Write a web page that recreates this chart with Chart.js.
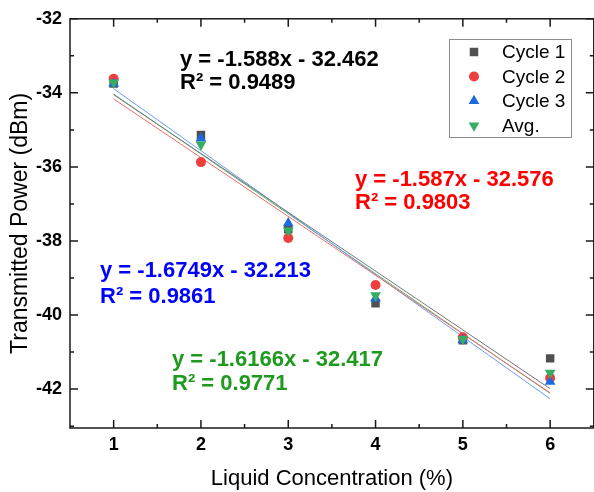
<!DOCTYPE html>
<html>
<head>
<meta charset="utf-8">
<script src="https://cdn.jsdelivr.net/npm/chart.js"></script>
<style>
  html, body { margin: 0; padding: 0; background: #fff; overflow: hidden; }
  #wrap { width: 600px; height: 492px; }
</style>
</head>
<body>
<div id="wrap"><canvas id="grafico"></canvas></div>
<script>
// datos
const concentracion = [1, 2, 3, 4, 5, 6];
const ciclo1 = [-33.75, -35.14, -37.68, -39.68, -40.68, -41.17];
const ciclo2 = [-33.62, -35.87, -37.92, -39.19, -40.60, -41.70];
const ciclo3 = [-33.75, -35.23, -37.52, -39.55, -40.68, -41.80];
const promedio = [-33.72, -35.40, -37.72, -39.47, -40.65, -41.56];

// ajustes lineales (segun las ecuaciones del grafico)
const pendientes = [-1.588, -1.587, -1.6749, -1.6166];
const interceptos = [-32.462, -32.576, -32.213, -32.417];
const r2 = [0.9489, 0.9803, 0.9861, 0.9771];

const nombres = ['Cycle 1', 'Cycle 2', 'Cycle 3', 'Avg.'];
const xTicks = [1, 2, 3, 4, 5, 6];
const xMenores = [1.5, 2.5, 3.5, 4.5, 5.5];
const yTicks = [-42, -40, -38, -36, -34, -32];
const yMenores = [-43, -41, -39, -37, -35, -33];

const colores = ['#505050', '#ef3e3e', '#1d6ae0', '#35ad62'];
const coloresLinea = ['#777777', '#f46a6a', '#6b9bf2', '#4fb874'];
const coloresTexto = ['#000000', '#ff0000', '#0000ff', '#1e9a1e'];
const estilos = [
  { pointStyle: 'rect', radius: 6, rotation: 0 },
  { pointStyle: 'circle', radius: 5, rotation: 0 },
  { pointStyle: 'triangle', radius: 6.2, rotation: 0 },
  { pointStyle: 'triangle', radius: 6.2, rotation: 180 }
];
const series = [ciclo1, ciclo2, ciclo3, promedio];

const datasets = [];
// lineas de ajuste, detras de los puntos
series.forEach((s, i) => {
  const x0 = concentracion[0], x1 = concentracion[concentracion.length - 1];
  datasets.push({
    label: nombres[i] + ' fit',
    data: [{ x: x0, y: pendientes[i] * x0 + interceptos[i] }, { x: x1, y: pendientes[i] * x1 + interceptos[i] }],
    showLine: true,
    borderColor: coloresLinea[i],
    borderWidth: 1,
    pointRadius: 0,
    order: 10 + i
  });
});
series.forEach((s, i) => {
  datasets.push({
    label: nombres[i],
    data: concentracion.map((x, j) => ({ x, y: s[j] })),
    showLine: false,
    pointStyle: estilos[i].pointStyle,
    pointRadius: estilos[i].radius,
    pointRotation: estilos[i].rotation,
    pointBackgroundColor: colores[i],
    pointBorderWidth: 0,
    order: 4 - i
  });
});

// anotaciones (posiciones en pixeles)
const posTexto = [[180, 60, 83], [355, 180, 203], [100, 271, 297], [172, 360, 384]];

function marcador(ctx, estilo, color, x, y) {
  ctx.save();
  ctx.fillStyle = color;
  ctx.beginPath();
  const r = estilo.radius;
  if (estilo.pointStyle === 'rect') {
    const s = r * Math.SQRT1_2;
    ctx.rect(x - s, y - s, 2 * s, 2 * s);
  } else if (estilo.pointStyle === 'circle') {
    ctx.arc(x, y, r, 0, Math.PI * 2);
  } else {
    const d = estilo.rotation ? -1 : 1;
    ctx.moveTo(x, y - d * r);
    ctx.lineTo(x + r * 0.866, y + d * r * 0.5);
    ctx.lineTo(x - r * 0.866, y + d * r * 0.5);
    ctx.closePath();
  }
  ctx.fill();
  ctx.restore();
}

const marco = {
  id: 'marco',
  afterDraw(chart) {
    const { ctx, chartArea: a, scales: { x, y } } = chart;
    ctx.save();
    ctx.strokeStyle = '#1a1a1a';
    ctx.lineWidth = 1.5;
    ctx.strokeRect(a.left, a.top, a.right - a.left, a.bottom - a.top);
    ctx.beginPath();
    const tx = (v, l) => {
      const p = x.getPixelForValue(v);
      ctx.moveTo(p, a.bottom); ctx.lineTo(p, a.bottom - l);
      ctx.moveTo(p, a.top); ctx.lineTo(p, a.top + l);
    };
    const ty = (v, l) => {
      const p = y.getPixelForValue(v);
      ctx.moveTo(a.left, p); ctx.lineTo(a.left + l, p);
      ctx.moveTo(a.right, p); ctx.lineTo(a.right - l, p);
    };
    xTicks.forEach(v => tx(v, 8));
    xMenores.forEach(v => tx(v, 4));
    yTicks.forEach(v => ty(v, 8));
    yMenores.forEach(v => ty(v, 4));
    ctx.stroke();

    // ecuaciones
    ctx.font = 'bold 22px Arial';
    ctx.textBaseline = 'middle';
    ctx.textAlign = 'left';
    posTexto.forEach((p, i) => {
      ctx.fillStyle = coloresTexto[i];
      const b = interceptos[i];
      ctx.fillText('y = ' + pendientes[i] + 'x ' + (b < 0 ? '- ' : '+ ') + Math.abs(b), p[0], p[1]);
      ctx.fillText('R\u00b2 = ' + r2[i], p[0], p[2]);
    });

    // leyenda
    ctx.fillStyle = '#fff';
    ctx.fillRect(449, 39, 122, 98);
    ctx.strokeStyle = '#8c8c8c';
    ctx.lineWidth = 1;
    ctx.strokeRect(449.5, 39.5, 122, 98);
    ctx.font = '19px Arial';
    nombres.forEach((n, i) => {
      const yy = 52 + i * 24.5;
      marcador(ctx, estilos[i], colores[i], 474, yy);
      ctx.fillStyle = '#000';
      ctx.fillText(n, 502, yy + 1);
    });
    ctx.restore();
  }
};

new Chart(document.getElementById('grafico'), {
  type: 'scatter',
  data: { datasets },
  options: {
    responsive: true,
    maintainAspectRatio: false,
    animation: false,
    layout: { padding: { top: 18, right: 4, left: 0, bottom: 0 } },
    plugins: { legend: { display: false }, tooltip: { enabled: false } },
    scales: {
      x: {
        type: 'linear',
        min: 0.5,
        max: 6.5,
        afterBuildTicks: s => { s.ticks = xTicks.map(v => ({ value: v })); },
        afterFit: s => { s.height = 64; },
        grid: { display: false, drawTicks: false },
        border: { display: false },
        ticks: { color: '#000', font: { family: 'Arial', size: 18, weight: 'bold' }, padding: 6, maxRotation: 0, autoSkip: false },
        title: { display: true, text: 'Liquid Concentration (%)', color: '#000', font: { family: 'Arial', size: 22 }, padding: { top: 0, bottom: 0 } }
      },
      y: {
        type: 'linear',
        min: -43.05,
        max: -32,
        afterBuildTicks: s => { s.ticks = yTicks.map(v => ({ value: v })); },
        afterFit: s => { s.width = 70; },
        grid: { display: false, drawTicks: false },
        border: { display: false },
        ticks: { color: '#000', font: { family: 'Arial', size: 18, weight: 'bold' }, padding: 8, autoSkip: false },
        title: { display: true, text: 'Transmitted Power (dBm)', color: '#000', font: { family: 'Arial', size: 23 }, padding: { top: 7, bottom: 0 } }
      }
    }
  },
  plugins: [marco]
});
</script>
</body>
</html>
